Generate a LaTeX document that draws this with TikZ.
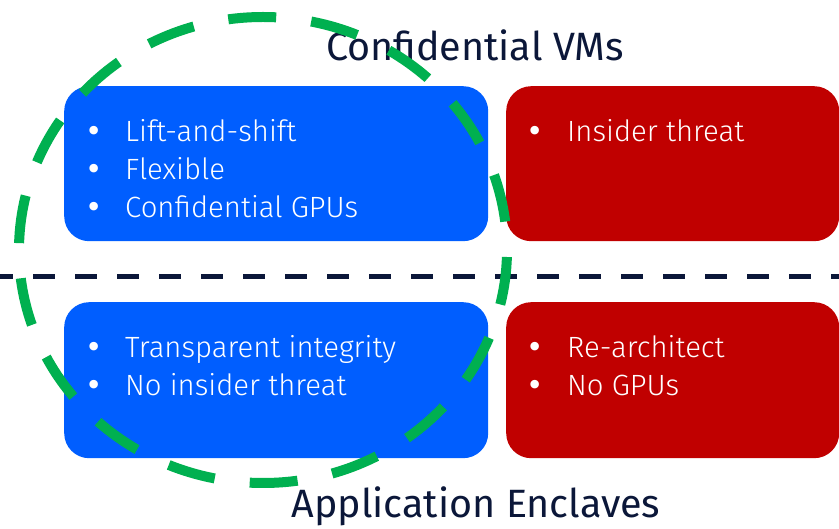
\documentclass[tikz,border=0pt]{standalone}
\usepackage{fontspec}
\setmainfont{Fira Sans}[UprightFont=* Light]
\newfontfamily\titlefont{Fira Sans}
\newfontfamily\bulfont{DejaVu Sans}
\definecolor{blueC}{HTML}{005EFF}
\definecolor{redC}{HTML}{C00000}
\definecolor{greenC}{HTML}{00B050}
\definecolor{navyC}{HTML}{0B1739}
\begin{document}
\begin{tikzpicture}[x=1pt,y=-1pt,
  panel/.style={rounded corners=25pt, inner sep=0pt, anchor=north west, draw=none},
  itemtext/.style={anchor=base west, inner sep=0pt, text=white, font=\fontsize{29.3}{34}\selectfont},
  bul/.style={anchor=base, inner sep=0pt, text=white, font=\bulfont\fontsize{29.3}{34}\selectfont},
  heading/.style={anchor=base, inner sep=0pt, text=navyC, font=\titlefont\fontsize{39.5}{46}\selectfont}]
\useasboundingbox (0,0) rectangle (839,529);
% panels
\node[panel, fill=blueC, minimum width=424pt, minimum height=155pt] (vmpro) at (64,86) {};
\node[panel, fill=redC, minimum width=333pt, minimum height=155pt] (vmcon) at (506,86) {};
\node[panel, fill=blueC, minimum width=424pt, minimum height=156pt] (enpro) at (64,302) {};
\node[panel, fill=redC, minimum width=333pt, minimum height=156pt] (encon) at (506,302) {};
% divider
\coordinate (divL) at (0,277);
\coordinate (divR) at (839,277);
\draw[navyC, line width=5pt, dash pattern=on 22pt off 20pt, dash phase=9pt] (divL) -- (divR);
% headings
\node[heading] (tvm) at (475,61) {Confidential VMs};
\node[heading] (ten) at (476,518) {Application Enclaves};
% top-left bullets
\node[bul] (b1) at (94,142) {•};
\node[itemtext] (t1) at (125,142) {Lift-and-shift};
\node[bul] (b2) at (94,180) {•};
\node[itemtext] (t2) at (125,180) {Flexible};
\node[bul] (b3) at (94,218) {•};
\node[itemtext] (t3) at (125,218) {Confidential GPUs};
% top-right
\node[bul] (b4) at (535,142) {•};
\node[itemtext] (t4) at (567,142) {Insider threat};
% bottom-left
\node[bul] (b5) at (94,358) {•};
\node[itemtext] (t5) at (125,358) {Transparent integrity};
\node[bul] (b6) at (94,396) {•};
\node[itemtext] (t6) at (125,396) {No insider threat};
% bottom-right
\node[bul] (b7) at (535,358) {•};
\node[itemtext] (t7) at (567,358) {Re-architect};
\node[bul] (b8) at (535,396) {•};
\node[itemtext] (t8) at (567,396) {No GPUs};
% green dashed ellipse
\draw[greenC, line width=10pt, dash pattern=on 48pt off 35.26pt, dash phase=76.26pt] (263,250) ellipse [x radius=244, y radius=233];
\end{tikzpicture}
\end{document}
